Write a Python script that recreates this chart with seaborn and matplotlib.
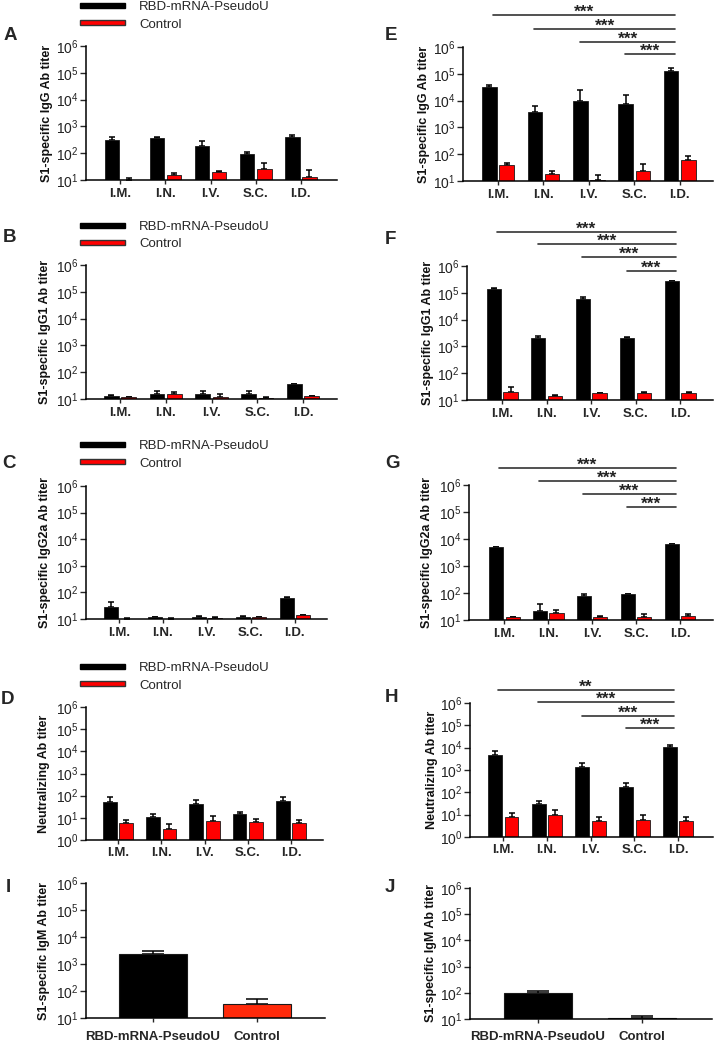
import numpy as np
import pandas as pd
import matplotlib
matplotlib.use("Agg")
import matplotlib.pyplot as plt
import seaborn as sns
from matplotlib.patches import Patch
from matplotlib.ticker import NullLocator
from matplotlib.transforms import blended_transform_factory

sns.set_style("ticks")
plt.rcParams["font.family"] = ["Liberation Sans", "DejaVu Sans"]
plt.rcParams["mathtext.default"] = "regular"

# ---------------- data ----------------
routes = ["I.M.", "I.N.", "I.V.", "S.C.", "I.D."]
groups = ["RBD-mRNA-PseudoU", "Control"]

# A: S1-specific IgG (low dose)
a_vac = [310, 370, 190, 91, 415]
a_vac_err = [105, 45, 105, 24, 65]
a_ctl = [10.3, 16, 20, 26, 12.6]
a_ctl_err = [1.2, 2, 2, 16, 11.4]
# B: IgG1
b_vac = [13, 16, 16, 15, 35]
b_vac_err = [0.7, 3.5, 4, 5, 2]
b_ctl = [11.5, 16, 12, 11, 13]
b_ctl_err = [0.5, 2, 3, 1, 0.5]
# C: IgG2a
c_vac = [29, 11.5, 12, 11.5, 63]
c_vac_err = [16, 0.5, 0.8, 1.3, 3]
c_ctl = [10.3, 10.3, 11.2, 11.5, 13.7]
c_ctl_err = [0.3, 0.2, 1, 0.3, 0.8]
# D: neutralizing
d_vac = [50, 10.7, 43, 15, 60]
d_vac_err = [38, 4.9, 19, 3, 28]
d_ctl = [5.6, 3.3, 7.3, 6.4, 5.6]
d_ctl_err = [2, 1.9, 4.6, 2.9, 2.3]
# E: IgG (high dose)
e_vac = [32000, 3900, 9500, 7500, 123000]
e_vac_err = [7000, 2600, 14500, 8800, 40000]
e_ctl = [39, 19, 11, 24, 60]
e_ctl_err = [7, 5, 6, 18, 27]
# F: IgG1
f_vac = [135000, 2100, 57000, 2100, 265000]
f_vac_err = [11000, 400, 11000, 200, 18000]
f_ctl = [20, 14, 18, 18.4, 19]
f_ctl_err = [10, 1.4, 1, 1.1, 1]
# G: IgG2a
g_vac = [4900, 22, 75, 89, 6300]
g_vac_err = [300, 17, 14, 5, 200]
g_ctl = [13, 18, 13, 12.6, 13.7]
g_ctl_err = [0.3, 5, 0.5, 4.4, 2.8]
# H: neutralizing
h_vac = [4700, 30, 1400, 170, 10200]
h_vac_err = [2600, 9, 700, 87, 2400]
h_ctl = [7.6, 10, 5, 5.6, 5]
h_ctl_err = [4.3, 5.6, 2.9, 3.7, 2.9]
# I, J: IgM
i_vals = [2300, 33]
i_err = [650, 17]
j_vals = [95, 11]
j_err = [19, 1.6]

sig_starts = [0, 1, 2, 3]           # each vs I.D.
sig_labels_efg = ["***", "***", "***", "***"]
sig_labels_h = ["**", "***", "***", "***"]

RED = "#ff0000"
RED_I = "#ff2a0a"
pal = {groups[0]: "black", groups[1]: RED}

W, H = 716, 1042
fig = plt.figure(figsize=(W / 100, H / 100), dpi=100)


def px_axes(l, r, t, b):
    return fig.add_axes([l / W, 1 - b / H, (r - l) / W, (b - t) / H])


def style_axis(ax, rect, ylo, ylabel, ylab_right, xlim, xpad=3):
    l, r, t, b = rect
    ax.set_yscale("log")
    ax.set_ylim(10 ** ylo, 1e6)
    ax.set_xlim(*xlim)
    ticks = [10.0 ** k for k in range(ylo, 7)]
    ax.set_yticks(ticks)
    ax.set_yticklabels([rf"$\mathregular{{10^{{{k}}}}}$" for k in range(ylo, 7)])
    ax.yaxis.set_minor_locator(NullLocator())
    ax.tick_params(axis="y", length=4, width=1, pad=1.5, labelsize=10, labelcolor="#222222")
    ax.tick_params(axis="x", length=3, width=1, pad=xpad, labelsize=9.5)
    for lbl in ax.get_xticklabels():
        lbl.set_fontweight("bold")
    sns.despine(ax=ax)
    for s in ("left", "bottom"):
        ax.spines[s].set_linewidth(1.1)
        ax.spines[s].set_color("black")
    ax.set_xlabel("")
    ax.set_ylabel(ylabel, fontsize=9, fontweight="bold", color="#111111")
    ax.yaxis.set_label_coords((ylab_right - l) / (r - l), 0.5)


def add_errors(ax, err_lists, capsize=2.2):
    for cont, errs in zip(ax.containers, err_lists):
        for bar, e in zip(cont, errs):
            h = bar.get_height()
            if np.isnan(h) or h == 0:
                continue
            x = bar.get_x() + bar.get_width() / 2
            ax.errorbar(x, h, yerr=[[0], [e]], fmt="none", ecolor="black",
                        elinewidth=1.1, capsize=capsize, capthick=1.1, zorder=1)


def route_panel(rect, vac, vac_err, ctl, ctl_err, ylabel, ylo, xlim, ylab_right,
                letter, lxy, legend_cy=None, sig_y=None, sig_labels=None, xpad=3):
    ax = px_axes(*rect)
    df = pd.DataFrame({
        "route": routes * 2,
        "group": [groups[0]] * len(routes) + [groups[1]] * len(routes),
        "titer": list(vac) + list(ctl),
    })
    sns.barplot(data=df, x="route", y="titer", hue="group", order=routes,
                hue_order=groups, palette=pal, width=0.76, gap=0.16,
                saturation=1, errorbar=None, edgecolor="#1a1a1a",
                linewidth=0.6, ax=ax, legend=False, zorder=2)
    add_errors(ax, [vac_err, ctl_err])
    style_axis(ax, rect, ylo, ylabel, ylab_right, xlim, xpad)
    fig.text(lxy[0] / W, 1 - lxy[1] / H, letter, fontsize=13.5, fontweight="bold",
             ha="center", va="center")
    if legend_cy is not None:
        handles = [Patch(facecolor="black", edgecolor="black", label=groups[0]),
                   Patch(facecolor=RED, edgecolor="#333333", label=groups[1])]
        fig.legend(handles=handles, loc="center left",
                   bbox_to_anchor=(80 / W, 1 - legend_cy / H), frameon=False,
                   fontsize=9.5, handlelength=3.4, handleheight=0.22,
                   handletextpad=1.1, labelspacing=0.4, borderpad=0,
                   borderaxespad=0)
    if sig_y is not None:
        l, r, t, b = rect
        hpx = b - t
        trans = blended_transform_factory(ax.transData, ax.transAxes)
        for s, lab, yf in zip(sig_starts, sig_labels, sig_y):
            x0 = s - 0.2 if s > 0 else s - 0.12
            x1 = 3.9
            ax.plot([x0, x1], [yf, yf], transform=trans, clip_on=False,
                    color="#333333", lw=1.2)
            ax.text((x0 + x1) / 2, yf + 3 / hpx, lab, transform=trans,
                    ha="center", va="center", fontsize=12.5, fontweight="bold",
                    color="#222222")
    return ax


def igm_panel(rect, vals, errs, xlim, ylab_right, letter, lxy, red):
    ax = px_axes(*rect)
    df = pd.DataFrame({"group": groups, "titer": vals})
    sns.barplot(data=df, x="group", y="titer", hue="group", order=groups,
                hue_order=groups, palette={groups[0]: "black", groups[1]: red},
                width=0.65, saturation=1, errorbar=None, edgecolor="#1a1a1a",
                linewidth=0.8, ax=ax, legend=False, zorder=2)
    add_errors(ax, [[errs[0], errs[0]], [errs[1], errs[1]]], capsize=8)
    style_axis(ax, rect, 1, "S1-specific IgM Ab titer", ylab_right, xlim, xpad=6)
    fig.text(lxy[0] / W, 1 - lxy[1] / H, letter, fontsize=13.5, fontweight="bold",
             ha="center", va="center")
    return ax


route_panel((86, 337, 46, 180), a_vac, a_vac_err, a_ctl, a_ctl_err,
            "S1-specific IgG Ab titer", 1, (-0.76, 4.8), 53, "A", (10, 35),
            legend_cy=16)
route_panel((86, 337, 265, 399), b_vac, b_vac_err, b_ctl, b_ctl_err,
            "S1-specific IgG1 Ab titer", 1, (-0.74, 4.74), 51, "B", (9, 238),
            legend_cy=235.5)
route_panel((86, 327, 486, 619), c_vac, c_vac_err, c_ctl, c_ctl_err,
            "S1-specific IgG2a Ab titer", 1, (-0.75, 4.73), 51, "C", (9, 463),
            legend_cy=455)
route_panel((86, 323, 707, 840), d_vac, d_vac_err, d_ctl, d_ctl_err,
            "Neutralizing Ab titer", 0, (-0.74, 4.74), 50, "D", (8, 700),
            legend_cy=677, xpad=2)
route_panel((463, 713, 47, 181), e_vac, e_vac_err, e_ctl, e_ctl_err,
            "S1-specific IgG Ab titer", 1, (-0.77, 4.73), 430, "E", (391, 35),
            sig_y=[1.239, 1.134, 1.037, 0.948], sig_labels=sig_labels_efg)
route_panel((467, 713, 266, 400), f_vac, f_vac_err, f_ctl, f_ctl_err,
            "S1-specific IgG1 Ab titer", 1, (-0.79, 4.74), 434, "F", (390, 240),
            sig_y=[1.254, 1.164, 1.067, 0.963], sig_labels=sig_labels_efg)
route_panel((469, 713, 485, 620), g_vac, g_vac_err, g_ctl, g_ctl_err,
            "S1-specific IgG2a Ab titer", 1, (-0.8, 4.75), 433, "G", (393, 463),
            sig_y=[1.126, 1.03, 0.933, 0.837], sig_labels=sig_labels_efg)
route_panel((470, 713, 703, 837), h_vac, h_vac_err, h_ctl, h_ctl_err,
            "Neutralizing Ab titer", 0, (-0.76, 4.8), 438, "H", (392, 698),
            sig_y=[1.097, 1.007, 0.903, 0.813], sig_labels=sig_labels_h, xpad=2)
igm_panel((86, 325, 883, 1018), i_vals, i_err, (-0.64, 1.65), 50, "I", (8, 887), RED_I)
igm_panel((470, 712, 888, 1019), j_vals, j_err, (-0.65, 1.67), 437, "J", (390, 887), RED)

fig.savefig("out.png", dpi=100)
